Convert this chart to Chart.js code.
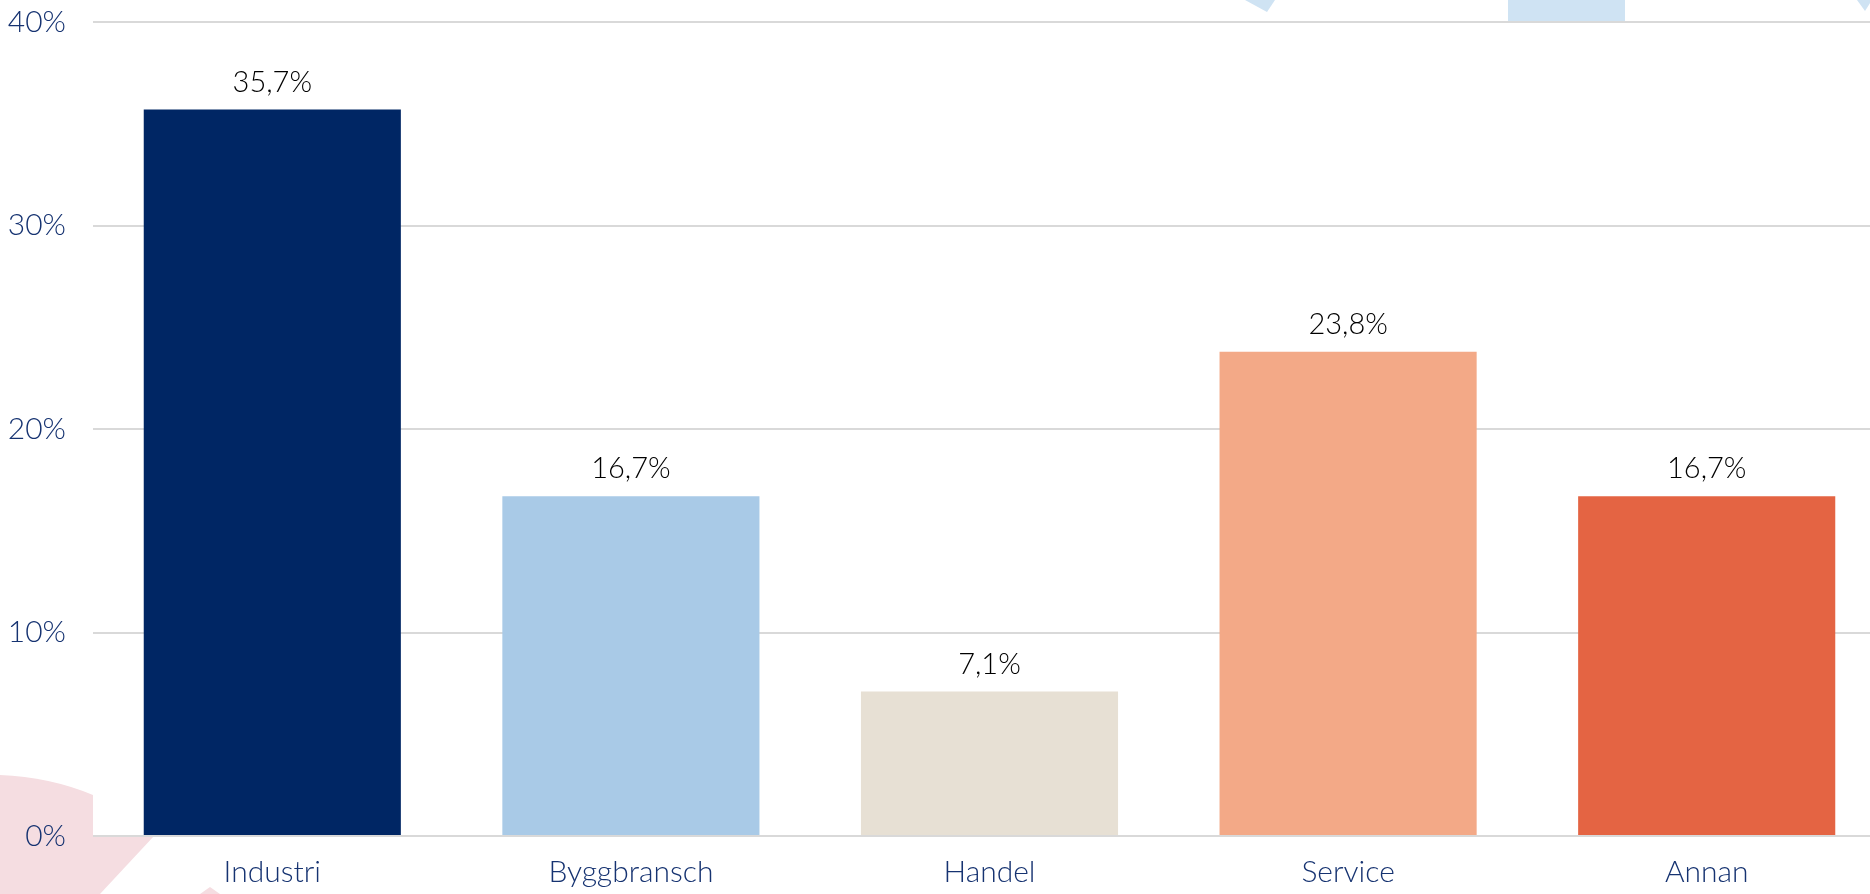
<!DOCTYPE html>
<html>
<head>
<meta charset="utf-8">
<script src="https://cdn.jsdelivr.net/npm/chart.js@4/dist/chart.umd.min.js"></script>
<style>
html, body { margin: 0; padding: 0; overflow: hidden; background: #ffffff; }
#wrap { position: relative; width: 1886px; height: 894px; }
</style>
</head>
<body>
<div id="wrap"><canvas id="c"></canvas></div>
<script>
const categories = ["Industri", "Byggbransch", "Handel", "Service", "Annan"];
const values = [35.7, 16.7, 7.1, 23.8, 16.7];
const valueLabels = ["35,7%", "16,7%", "7,1%", "23,8%", "16,7%"];
const barColors = ["#002664", "#a9cae7", "#e7e0d4", "#f3a987", "#e46443"];
const yTicks = [0, 10, 20, 30, 40];

const FONT = "Lato, 'Open Sans', sans-serif";

const decor = {
  id: 'decor',
  beforeDraw(chart) {
    const ctx = chart.ctx;
    const a = chart.chartArea;
    ctx.save();
    ctx.fillStyle = '#cfe3f3';
    ctx.beginPath();
    ctx.moveTo(1245, 0); ctx.lineTo(1275, 0); ctx.lineTo(1267, 12); ctx.closePath(); ctx.fill();
    ctx.fillRect(1508, 0, 117, a.top + 2);
    ctx.beginPath();
    ctx.moveTo(1857, 0); ctx.lineTo(1872, 0); ctx.lineTo(1865, 11); ctx.closePath(); ctx.fill();
    ctx.fillStyle = '#f5dde1';
    ctx.beginPath();
    ctx.moveTo(0, 775);
    ctx.quadraticCurveTo(50, 777, 93, 795);
    ctx.lineTo(135, 818);
    ctx.lineTo(154, 836);
    ctx.lineTo(100, 894);
    ctx.lineTo(0, 894);
    ctx.closePath(); ctx.fill();
    ctx.beginPath();
    ctx.moveTo(210, 887); ctx.lineTo(220, 894); ctx.lineTo(200, 894); ctx.closePath(); ctx.fill();
    ctx.fillStyle = '#ffffff';
    ctx.fillRect(a.left, a.top, a.right - a.left, a.bottom - a.top);
    ctx.restore();
  }
};

const valueLabelPlugin = {
  id: 'valueLabels',
  afterDatasetsDraw(chart) {
    const ctx = chart.ctx;
    const meta = chart.getDatasetMeta(0);
    ctx.save();
    ctx.font = '300 29px ' + FONT;
    ctx.fillStyle = '#000000';
    ctx.textAlign = 'center';
    ctx.textBaseline = 'alphabetic';
    meta.data.forEach((bar, i) => {
      ctx.fillText(valueLabels[i], bar.x, bar.y - 18);
    });
    ctx.restore();
  }
};

new Chart(document.getElementById('c'), {
  type: 'bar',
  data: {
    labels: categories,
    datasets: [{
      data: values,
      backgroundColor: barColors,
      borderWidth: 0,
      barPercentage: 0.717,
      categoryPercentage: 1.0
    }]
  },
  options: {
    responsive: true,
    maintainAspectRatio: false,
    animation: false,
    layout: { padding: { top: 22, right: 0, left: 0, bottom: 0 } },
    plugins: { legend: { display: false }, tooltip: { enabled: false } },
    scales: {
      x: {
        grid: { display: false, drawTicks: false },
        border: { display: false },
        ticks: { color: '#163371', font: { family: FONT, size: 30, weight: 300 }, padding: 18, maxRotation: 0 },
        afterFit(s) { s.height = 58; s.paddingLeft = 0; s.paddingRight = 0; }
      },
      y: {
        min: 0, max: 40,
        afterBuildTicks(s) { s.ticks = yTicks.map(v => ({ value: v })); },
        grid: { color: '#d9d9d9', lineWidth: 2, drawTicks: false },
        border: { display: false },
        ticks: { color: '#163371', font: { family: FONT, size: 30, weight: 300 }, padding: 27, callback: v => v + '%' },
        afterFit(s) { s.width = 93; s.paddingTop = 0; s.paddingBottom = 0; }
      }
    }
  },
  plugins: [decor, valueLabelPlugin]
});
</script>
</body>
</html>
